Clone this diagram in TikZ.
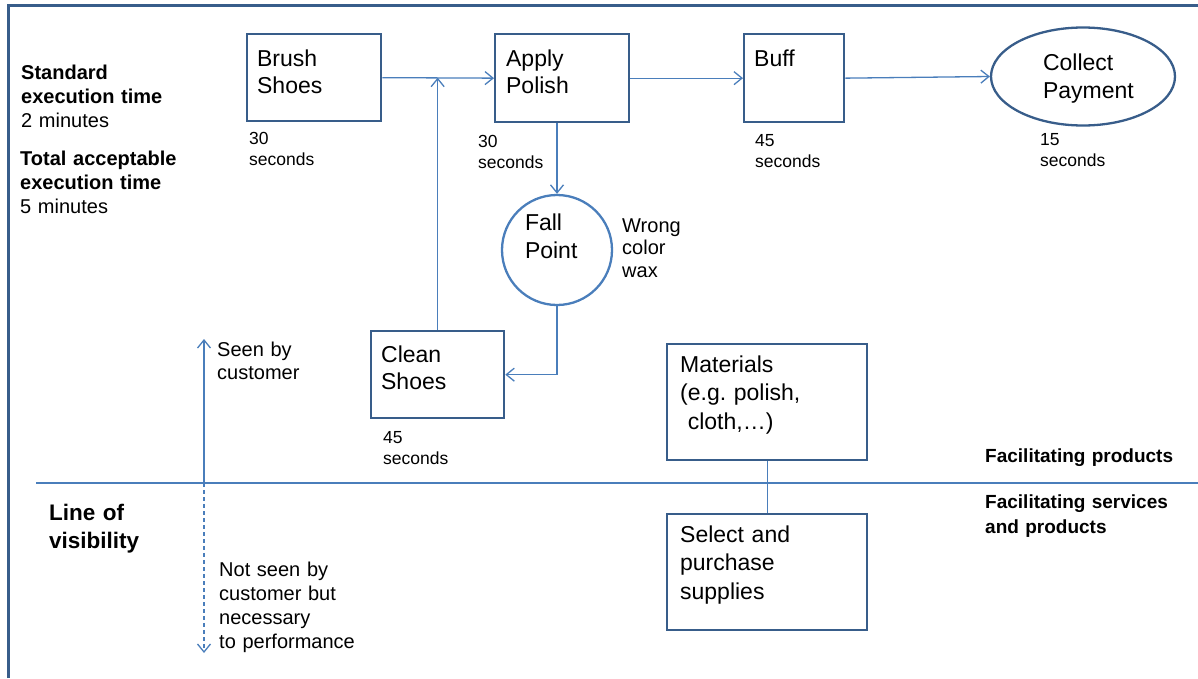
\documentclass[tikz,border=0pt]{standalone}
\usepackage{fontspec}
\setmainfont{Liberation Sans}
\frenchspacing
\usetikzlibrary{arrows.meta,shapes.geometric,calc}
\definecolor{boxc}{HTML}{385D8A}
\definecolor{linec}{HTML}{4A7EBB}
\begin{document}
\begin{tikzpicture}[x=1pt,y=-1pt,
  box/.style={draw=boxc, line width=2.3pt, rectangle, anchor=north west, inner xsep=10pt, inner ysep=0pt, align=left, font=\fontsize{23}{27.5}\selectfont},
  conn/.style={draw=linec, line width=1.3pt},
  arr/.style={conn, -{Straight Barb[length=8pt,width=13pt,line width=1.3pt]}},
  small/.style={anchor=base west, inner sep=0pt, text width=100pt, align=left, font=\fontsize{17.5}{21}\selectfont},
  mid/.style={anchor=base west, inner sep=0pt, text width=170pt, align=left, font=\fontsize{20}{24}\selectfont},
  hdr/.style={anchor=base west, inner sep=0pt, text width=210pt, align=left, font=\bfseries\fontsize{19}{25}\selectfont}
]
\useasboundingbox (0,0) rectangle (1198,678);
% frame
\draw[boxc, line width=3pt] (8,678) -- (8,5) -- (1198,5);
% line of visibility
\coordinate (lvl) at (36,483);
\coordinate (lvr) at (1198,483);
\draw[linec, line width=2.5pt] (lvl) -- (lvr);

% left texts
\node[mid] (std) at (21,79) {\textbf{Standard}\\\textbf{execution time}\\2 minutes};
\node[mid] (tot) at (20,165) {\textbf{Total acceptable}\\\textbf{execution time}\\5 minutes};

% process boxes
\node[box, text width=114pt, text height=32pt, text depth=55pt] (brush) at (246,33) {Brush\\Shoes};
\node[box, inner xsep=11pt, text width=112pt, text height=32pt, text depth=56pt] (apply) at (494,33) {Apply\\Polish};
\node[box, text width=80pt, text height=32pt, text depth=56pt] (buff) at (743,33) {Buff};
\node[ellipse, draw=boxc, line width=2.3pt, minimum width=184pt, minimum height=98pt, inner sep=0pt, text width=80pt, align=left,
      text height=17pt, text depth=29pt, font=\fontsize{23}{28}\selectfont] (collect) at (1083,76.5) {Collect\\Payment};
\node[circle, draw=linec, line width=2.3pt, minimum size=110pt, inner sep=0pt, text width=64pt, align=left,
      text height=17pt, text depth=57pt, font=\fontsize{23}{28}\selectfont] (fall) at (557,250) {Fall\\Point};
\node[box, text width=113pt, text height=31pt, text depth=56pt] (clean) at (370,330) {Clean\\Shoes};
\node[box, inner xsep=13pt, text width=174pt, text height=28pt, text depth=88pt, font=\fontsize{23}{28.5}\selectfont] (materials) at (666,343) {Materials\\(e.g. polish,\\~cloth,…)};
\node[box, inner xsep=13pt, text width=174pt, text height=28pt, text depth=88pt, font=\fontsize{23}{28.5}\selectfont] (select) at (666,513) {Select and\\purchase\\supplies};

% times
\node[small] (t1) at (249,144) {30\\seconds};
\node[small] (t2) at (478,147) {30\\seconds};
\node[small] (t3) at (755,146) {45\\seconds};
\node[small] (t4) at (1040,145) {15\\seconds};
\node[small] (t5) at (383,443) {45\\seconds};

\node[mid, font=\fontsize{20}{22.5}\selectfont] (wrong) at (622,232) {Wrong\\color\\wax};

% connectors
\draw[arr] (brush.east) -- (apply.west);
\draw[arr] (apply.east) -- (buff.west);
\draw[arr] (buff.east) -- (collect.west);
\draw[arr] (fall.north |- apply.south) -- (fall.north);
\draw[arr] (fall.south) |- (clean.east);
\draw[arr] (clean.north) -- (clean.north |- brush.east);
\draw[conn] (materials.south) -- (select.north);

% visibility arrows
\coordinate (vmid) at (204,483);
\coordinate (vtop) at (204,339);
\coordinate (vbot) at (204,653);
\draw[arr, line width=1.2pt] (vmid) -- (vtop);
\draw[arr, line width=1.2pt, dash pattern=on 4pt off 3pt] (vmid) -- (vbot);
\node[mid, font=\fontsize{20}{23}\selectfont] (seen) at (217,356) {Seen by\\customer};
\node[mid] (notseen) at (219,576) {Not seen by\\customer but\\necessary\\to performance};
\node[mid, font=\bfseries\fontsize{22.5}{28}\selectfont] (lov) at (49,520) {Line of\\visibility};

\node[hdr] (fp) at (985,462) {Facilitating products};
\node[hdr] (fs) at (985,508) {Facilitating services\\and products};
\end{tikzpicture}
\end{document}
